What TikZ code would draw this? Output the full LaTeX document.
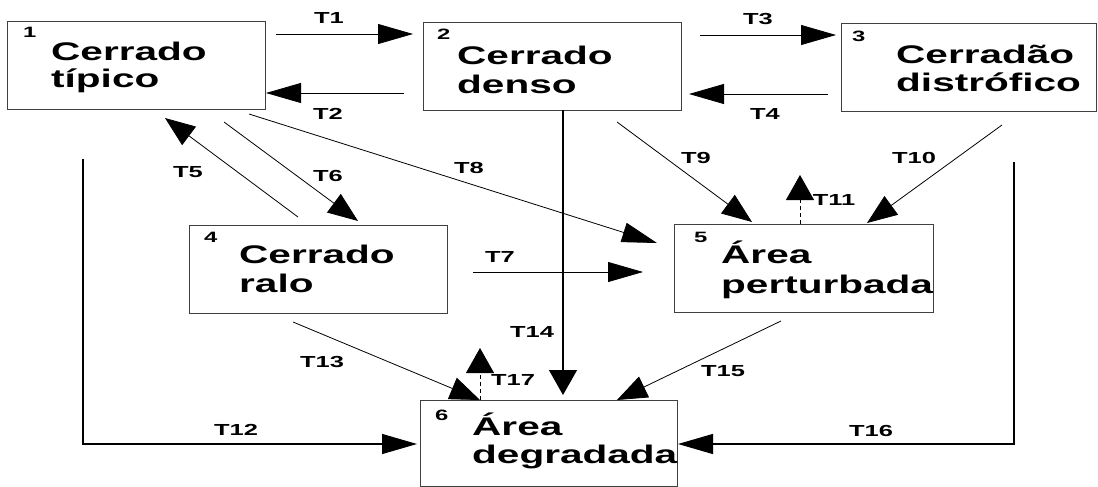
\documentclass[tikz,border=0pt]{standalone}
\usepackage{fontspec}
\usetikzlibrary{arrows.meta}
\newfontfamily\lab{Liberation Sans}[FakeStretch=1.59]
\tikzset{
  box/.style={draw=black!75, line width=0.6pt, rectangle, inner sep=0pt},
  lbl/.style={font=\lab\bfseries\fontsize{25.5}{29}\selectfont, anchor=base west, inner sep=0pt},
  num/.style={font=\lab\bfseries\fontsize{15}{17}\selectfont, anchor=base west, inner sep=0pt},
  tl/.style={font=\lab\bfseries\fontsize{16}{18}\selectfont, inner sep=0pt},
  conn/.style={line width=0.8pt, black},
  thick conn/.style={line width=1.2pt},
  hh/.style={conn, -{Triangle[length=35pt,width=20pt]}},
  dh/.style={conn, -{Triangle[length=30pt,width=23pt]}},
  vh/.style={conn, -{Triangle[length=25pt,width=28pt]}},
  dsh/.style={conn, dash pattern=on 4pt off 3pt, -{Triangle[length=25pt,width=28pt]}}
}
\begin{document}
\begin{tikzpicture}[x=1pt,y=-1pt]
\useasboundingbox (0,0) rectangle (1098,487);
\fill[white] (0,0) rectangle (1098,487);
% boxes
\node[box, minimum width=258pt, minimum height=88pt] (b1) at (136,65) {};
\node[box, minimum width=258pt, minimum height=88pt] (b2) at (552,66) {};
\node[box, minimum width=255pt, minimum height=88pt] (b3) at (968.5,67) {};
\node[box, minimum width=258pt, minimum height=88pt] (b4) at (318,269) {};
\node[box, minimum width=259pt, minimum height=88pt] (b5) at (803.5,268) {};
\node[box, minimum width=257pt, minimum height=86pt] (b6) at (548.5,443) {};
% box texts
\node[num] (n1) at (23,38) {1};
\node[lbl] (b1a) at (51,60) {Cerrado};
\node[lbl] (b1b) at (51,88) {típico};
\node[num] (n2) at (437,40) {2};
\node[lbl] (b2a) at (457,65) {Cerrado};
\node[lbl] (b2b) at (457,93) {denso};
\node[num] (n3) at (852,42) {3};
\node[lbl] (b3a) at (896,64) {Cerradão};
\node[lbl] (b3b) at (896,92) {distrófico};
\node[num] (n4) at (204,242) {4};
\node[lbl] (b4a) at (239,263) {Cerrado};
\node[lbl] (b4b) at (239,292) {ralo};
\node[num] (n5) at (694,242) {5};
\node[lbl] (b5a) at (721,263) {Área};
\node[lbl] (b5b) at (721,293) {perturbada};
\node[num] (n6) at (435,420) {6};
\node[lbl] (b6a) at (472,435) {Área};
\node[lbl] (b6b) at (472,463) {degradada};
% connector end points
\coordinate (t1s) at (276,34);   \coordinate (t1e) at (413,34);
\coordinate (t2s) at (404,93);   \coordinate (t2e) at (266,93);
\coordinate (t3s) at (700,35);   \coordinate (t3e) at (836,35);
\coordinate (t4s) at (828,94);   \coordinate (t4e) at (689,94);
\coordinate (t5s) at (298,217);  \coordinate (t5e) at (165,118);
\coordinate (t6s) at (224,122);  \coordinate (t6e) at (358,221);
\coordinate (t7s) at (473,272);  \coordinate (t7e) at (643,272);
\coordinate (t8s) at (249,114);  \coordinate (t8e) at (657,243);
\coordinate (t9s) at (617,122);  \coordinate (t9e) at (752,222);
\coordinate (t10s) at (1002,125); \coordinate (t10e) at (867,223);
\coordinate (t11s) at (800,224); \coordinate (t11e) at (800,175);
\coordinate (t12s) at (83,159);  \coordinate (t12c) at (83,444); \coordinate (t12e) at (417,444);
\coordinate (t13s) at (293,322); \coordinate (t13e) at (480,400);
\coordinate (t14s) at (563,110); \coordinate (t14e) at (563,395);
\coordinate (t15s) at (781,321); \coordinate (t15e) at (617,400);
\coordinate (t16s) at (1014,162); \coordinate (t16c) at (1014,444); \coordinate (t16e) at (678,444);
\coordinate (t17s) at (480,400); \coordinate (t17e) at (480,348);
% connectors
\draw[hh] (t1s) -- (t1e);
\draw[hh] (t2s) -- (t2e);
\draw[hh] (t3s) -- (t3e);
\draw[hh] (t4s) -- (t4e);
\draw[dh] (t5s) -- (t5e);
\draw[dh] (t6s) -- (t6e);
\draw[hh] (t7s) -- (t7e);
\draw[hh] (t8s) -- (t8e);
\draw[dh] (t9s) -- (t9e);
\draw[dh] (t10s) -- (t10e);
\draw[dsh] (t11s) -- (t11e);
\draw[hh, thick conn] (t12s) -- (t12c) -- (t12e);
\draw[dh] (t13s) -- (t13e);
\draw[vh, thick conn] (t14s) -- (t14e);
\draw[dh] (t15s) -- (t15e);
\draw[hh, thick conn] (t16s) -- (t16c) -- (t16e);
\draw[dsh] (t17s) -- (t17e);
% connector labels
\node[tl] (l1) at (329,18) {T1};
\node[tl] (l2) at (328,114) {T2};
\node[tl] (l3) at (758,19) {T3};
\node[tl] (l4) at (765,114) {T4};
\node[tl] (l5) at (188,172) {T5};
\node[tl] (l6) at (328,176) {T6};
\node[tl] (l7) at (500,257) {T7};
\node[tl] (l8) at (469,168) {T8};
\node[tl] (l9) at (696,158) {T9};
\node[tl] (l10) at (914,158) {T10};
\node[tl] (l11) at (834,200) {T11};
\node[tl] (l12) at (236,430) {T12};
\node[tl] (l13) at (322,362) {T13};
\node[tl] (l14) at (532,332) {T14};
\node[tl] (l15) at (723,371) {T15};
\node[tl] (l16) at (871,431) {T16};
\node[tl] (l17) at (513,380) {T17};
\end{tikzpicture}
\end{document}
